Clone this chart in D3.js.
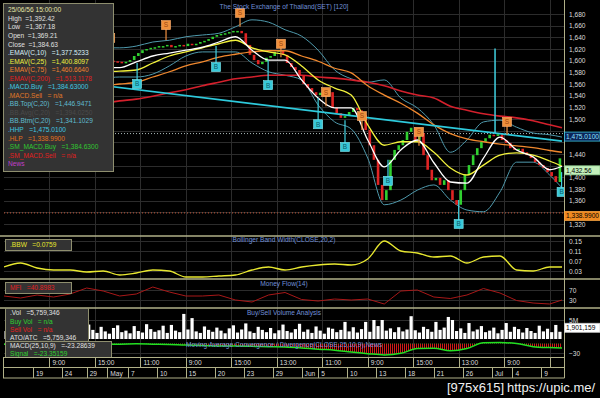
<!DOCTYPE html>
<html>
<head>
<meta charset="utf-8">
<script src="https://cdn.jsdelivr.net/npm/d3@7/dist/d3.min.js"></script>
<style>
 body{margin:0;background:#000;}
 svg{display:block;font-family:"Liberation Sans",Arial,sans-serif;}
 text{white-space:pre;}
</style>
</head>
<body>
<div id="chart"></div>
<script>
// 120 min bars, SET index
var closes = [
 1600,1604,1598,1606,1610,1603,1597,1601,1608,1612,
 1605,1599,1595,1602,1607,1604,1598,1593,1596,1601,
 1604,1600,1596,1594,1597,1600,1599,
 1598,1596,1598,1601,1608,1613,1618,1620,1622,1623,
 1625,1625,1627,1623,1625,1627,1625,1629,1627,1629,
 1632,1634,1637,1641,1644,1646,1647,1649,1651,1651,
 1647,1627,1610,1601,1594,1598,1605,1608,1615,1618,
 1610,1596,1589,1584,1575,1560,1553,1546,1541,1545,
 1539,1546,1519,1510,1502,1505,1512,1519,1515,1507,
 1481,1455,1430,1387,1361,1378,1430,1447,1455,1464,
 1478,1485,1464,1476,1438,1413,1395,1399,1387,1395,
 1378,1361,1353,1378,1404,1421,1438,1450,1461,1467,
 1473,1471,1474,1464,1459,1450,1447,1449,1443,1438,
 1433,1426,1421,1416,1409,1402,1392,1432.56
];
var opens = [
 1598,1600,1604,1598,1606,1610,1603,1597,1601,1608,
 1612,1605,1599,1595,1602,1607,1604,1598,1593,1596,
 1601,1604,1600,1596,1594,1597,1600,
 1599,1598,1596,1598,1601,1608,1613,1618,1620,1622,
 1623,1625,1625,1627,1623,1625,1627,1625,1629,1627,
 1629,1632,1634,1637,1641,1644,1646,1647,1649,1651,
 1651,1647,1627,1610,1601,1594,1598,1605,1608,1615,
 1618,1610,1596,1589,1584,1575,1560,1553,1546,1541,
 1545,1539,1546,1519,1510,1502,1505,1512,1519,1515,
 1507,1481,1455,1430,1387,1361,1378,1430,1447,1455,
 1464,1478,1485,1464,1476,1438,1413,1395,1399,1387,
 1395,1378,1361,1353,1378,1404,1421,1438,1450,1461,
 1467,1473,1471,1474,1464,1459,1450,1447,1449,1443,
 1438,1433,1426,1421,1416,1409,1402,1392
];
// volume, millions
var volumes = [
 2.1,1.8,2.5,1.6,2.2,3.0,1.9,2.4,1.7,2.8,
 2.0,1.5,2.6,2.2,1.8,3.1,2.4,1.9,2.7,2.0,
 3.8,2.4,1.6,3.2,2.0,1.4,2.9,3.6,1.8,2.2,
 1.5,3.4,2.1,1.7,3.9,2.6,1.9,2.3,3.5,1.6,
 3.7,2.2,1.8,6.6,2.5,5.5,2.0,1.6,3.3,2.4,
 1.9,3.0,2.2,1.5,2.8,3.6,1.7,2.5,4.1,2.0,
 1.6,3.2,2.4,1.8,2.9,1.5,2.3,3.8,2.1,1.7,
 2.6,4.0,1.9,2.5,1.6,3.3,2.2,1.4,3.0,2.7,
 1.8,2.4,4.5,2.0,3.1,1.7,2.6,4.5,1.9,5.0,
 3.4,5.0,2.2,2.8,1.8,3.1,2.0,2.5,6.0,2.3,
 1.7,3.2,2.6,1.9,4.5,2.4,3.0,5.8,5.0,2.1,
 2.8,1.6,4.2,2.0,2.5,3.4,1.8,2.2,3.0,1.5,
 2.4,4.2,1.9,3.2,2.6,1.7,2.9,2.1,1.6,3.5,
 2.0,2.7,1.8,3.7,1.9
];

// indicator lines sampled at these bar slots
var lineSlots = [0,4,8,12,16,20,24,28,32,36,40,44,48,52,56,60,64,68,72,76,80,84,88,92,96,100,104,108,112,116,120,124,128,132,135];
var ema10  = [1593,1594,1596,1594,1593,1591,1589,1588,1598,1608,1613,1618,1623,1632,1641,1618,1601,1601,1567,1536,1519,1519,1464,1418,1447,1464,1425,1392,1390,1433,1469,1447,1435,1413,1419];
var ema25  = [1581,1581,1581,1579,1579,1579,1581,1582,1584,1596,1608,1615,1622,1629,1635,1622,1615,1610,1591,1567,1553,1541,1490,1455,1461,1461,1443,1416,1404,1421,1438,1442,1438,1428,1419];
var ema75  = [1546,1548,1550,1551,1553,1555,1557,1560,1563,1572,1581,1591,1598,1606,1611,1615,1617,1617,1608,1599,1587,1579,1557,1541,1527,1510,1490,1475,1466,1461,1457,1454,1451,1446,1443];
var ema200 = [1512,1514,1515,1519,1521,1524,1527,1531,1534,1539,1545,1550,1557,1563,1569,1572,1575,1575,1575,1572,1570,1567,1563,1557,1548,1541,1536,1522,1515,1509,1505,1502,1497,1490,1485];
var bbTop  = [1610,1613,1618,1622,1623,1623,1622,1622,1625,1632,1635,1641,1644,1647,1658,1670,1666,1653,1642,1618,1584,1569,1563,1567,1536,1519,1490,1443,1464,1495,1498,1486,1476,1473,1469];
var bbBtm  = [1550,1551,1553,1557,1560,1563,1569,1572,1572,1577,1591,1608,1615,1615,1615,1596,1581,1575,1567,1524,1495,1483,1433,1353,1361,1378,1387,1361,1344,1341,1375,1426,1426,1404,1382];
var bbw    = [0.046,0.062,0.042,0.034,0.034,0.026,0.030,0.014,0.022,0.034,0.030,0.006,0.006,0.010,0.014,0.034,0.046,0.034,0.046,0.054,0.058,0.054,0.078,0.150,0.110,0.102,0.086,0.090,0.062,0.086,0.090,0.034,0.030,0.046,0.046];
var mfi    = [46,38,50,42,54,78,66,46,54,82,62,46,46,50,30,22,50,60,32,26,34,30,34,14,66,70,42,36,50,76,58,28,18,14,30];
var macd   = [-2,-1,-2,-1,-2,-1,-2,-2,-1,-2,-3,-5,-6,-8,-8,-9,-10,-11,-14,-18,-21,-27,-32,-36,-31,-16,-15,-23,-16,2,3,0,-10,-13,-14];

var trendSlots = [0,135];
var trendPrices = [1578,1462];
var hhp = 1475.01, hlp = 1338.99, lastPrice = 1432.56, lastVol = 1901159;

// buy / sell signals
var markerTypes  = ['S','S','B','S','B','B','S','S','B','B','S','B','S','B','S','B'];
var markerSlots  = [25.7,39.2,32.2,57.1,51.3,63.9,67,77.9,76,82.5,86.6,92.9,100.4,110,121.7,134.9];
var markerFrom   = [1623,1635,1596,1658,1625,1601,1606,1522,1536,1498,1481,1430,1454,1361,1473,1409];
var markerBox    = [1639,1661,1560,1682,1589,1558,1629,1546,1491,1452,1505,1394,1478,1320,1495,1375];
var spikeSlot = 118.8, spikeTop = 1621, spikeBottom = 1476;

var priceTicks = [1320,1340,1360,1380,1400,1420,1440,1460,1480,1500,1520,1540,1560,1580,1600,1620,1640,1660,1680];
var bbwTicks = [0.03,0.07,0.11,0.15];
var mfTicks = [30,70];
var volTicks = [5];
var macdTicks = [-30];
var timeSlots  = [11,22,33,44,55,66,77,88,99,110,121,132];
var timeLabels = ['9:00','15:00','11:00','9:00','15:00','13:00','11:00','9:00','15:00','13:00','9:00',''];
var dateSlots  = [7,14,20,25,30,37,44,51,58,65,72,76,83,90,97,104,111,118,123,130];
var dateLabels = ['19','24','29','May','7','10','15','20','23','29','Jun','5','10','13','18','21','26','Jul','4','9'];

var legendRows = [
 ['25/06/56 15:00:00','#e6e6a8'],
 ['High  =1,392.42','#e0e0e0'],
 ['Low   =1,367.18','#e0e0e0'],
 ['Open  =1,369.21','#e0e0e0'],
 ['Close  =1,384.63','#e0e0e0'],
 ['.EMAV(C,10)   =1,377.5233','#d8f0f8'],
 ['.EMAV(C,25)   =1,400.8097','#f0f040'],
 ['.EMAV(C,75)   =1,460.6640','#f08030'],
 ['.EMAV(C,200)   =1,513.1178','#e02020'],
 ['.MACD.Buy   =1,384.63000','#40c8e0'],
 ['.MACD.Sell   = n/a','#e07828'],
 ['.BB.Top(C,20)   =1,446.9471','#60bcd0'],
 ['.BB.Avg(C,20)   =1,394.0250','#4a4a4a'],
 ['.BB.Btm(C,20)   =1,341.1029','#60bcd0'],
 ['.HHP   =1,475.0100','#40c8e0'],
 ['.HLP   =1,338.9900','#e07020'],
 ['.SM_MACD.Buy   =1,384.6300','#30c830'],
 ['.SM_MACD.Sell   = n/a','#e02020'],
 ['News','#c040c8']
];

var W = 600, H = 398, left = 4, right = 564;
var khaki = '#b0b088', gridC = '#2c2c2c', fs = 6.6;

var svg = d3.select('#chart').append('svg').attr('width', W).attr('height', H)
  .style('background', '#000');

var x = d3.scaleLinear().domain([0, 135]).range([4, 562]);
var yP = d3.scaleLinear().domain([1320, 1680]).range([224, 14]);
var yBbw = d3.scaleLinear().domain([0.03, 0.15]).range([271, 241]);
var yMf = d3.scaleLinear().domain([30, 70]).range([300, 290]);
var yVol = d3.scaleLinear().domain([0, 5]).range([339, 320]);
var yMacd = d3.scaleLinear().domain([-30, 0]).range([353, 343.5]);

var defs = svg.append('defs');
function clip(id, y0, y1) {
  defs.append('clipPath').attr('id', id).append('rect')
    .attr('x', left).attr('y', y0).attr('width', right - left).attr('height', y1 - y0);
}
clip('cMain', 0, 235); clip('cBbw', 237, 278); clip('cMf', 280, 307);
clip('cVol', 309, 340); clip('cMacd', 340, 357);
clip('cMacdUp', 340, 343.5); clip('cMacdDn', 343.5, 357);
function hatch(id, color) {
  defs.append('pattern').attr('id', id).attr('patternUnits', 'userSpaceOnUse')
    .attr('width', 2).attr('height', 4)
    .append('rect').attr('width', 1).attr('height', 4).attr('fill', color);
}
hatch('hRed', '#d01818'); hatch('hGreen', '#40e040');

// grid
var grid = svg.append('g').attr('stroke', gridC).attr('stroke-width', 1);
grid.selectAll('line.v').data(timeSlots).enter().append('line')
  .attr('x1', d => Math.round(x(d)) + 0.5).attr('x2', d => Math.round(x(d)) + 0.5)
  .attr('y1', 0).attr('y2', 357);
function hgrid(ticks, sc) {
  grid.selectAll(null).data(ticks).enter().append('line')
    .attr('x1', left).attr('x2', right)
    .attr('y1', d => Math.round(sc(d)) + 0.5).attr('y2', d => Math.round(sc(d)) + 0.5);
}
hgrid(priceTicks, yP); hgrid(bbwTicks, yBbw); hgrid(mfTicks, yMf);
hgrid(volTicks, yVol); hgrid(macdTicks, yMacd);

// main panel
var main = svg.append('g').attr('clip-path', 'url(#cMain)');

main.append('line').attr('x1', left).attr('x2', right)
  .attr('y1', yP(hhp)).attr('y2', yP(hhp))
  .attr('stroke', '#a8b8b8').attr('stroke-dasharray', '1,2');
main.append('line').attr('x1', left).attr('x2', right)
  .attr('y1', yP(hlp)).attr('y2', yP(hlp))
  .attr('stroke', '#c8583a').attr('stroke-dasharray', '1,2');

function drawLine(g, vals, sc, color, w, curve) {
  var line = d3.line().x((d, i) => x(lineSlots[i])).y(d => sc(d))
    .curve(curve || d3.curveMonotoneX);
  g.append('path').datum(vals).attr('d', line).attr('fill', 'none')
    .attr('stroke', color).attr('stroke-width', w);
}

drawLine(main, bbTop, yP, '#4f9aad', 1);
drawLine(main, bbBtm, yP, '#4f9aad', 1);

var bw = 2.6;
main.selectAll('rect.c').data(closes).enter().append('rect')
  .attr('x', (d, i) => x(i + 0.5) - bw / 2)
  .attr('y', (d, i) => yP(Math.max(d, opens[i])))
  .attr('width', bw)
  .attr('height', (d, i) => Math.max(1.5, Math.abs(yP(opens[i]) - yP(d))))
  .attr('fill', (d, i) => d >= opens[i] ? '#30d030' : '#e02424');

drawLine(main, ema200, yP, '#d4202c', 1.6);
drawLine(main, ema75, yP, '#f0882e', 1.3);
main.append('path')
  .datum(trendSlots.map((s, i) => [s, trendPrices[i]]))
  .attr('d', d3.line().x(d => x(d[0])).y(d => yP(d[1])))
  .attr('stroke', '#2ecadc').attr('stroke-width', 1.7).attr('fill', 'none');
drawLine(main, ema25, yP, '#f2f23c', 1.3);
drawLine(main, ema10, yP, '#ffffff', 1.3);

main.append('line').attr('x1', x(spikeSlot)).attr('x2', x(spikeSlot))
  .attr('y1', yP(spikeTop)).attr('y2', yP(spikeBottom))
  .attr('stroke', '#40d0e0').attr('stroke-width', 1.5);

var mk = main.selectAll('g.mk').data(markerTypes).enter().append('g');
mk.append('line')
  .attr('x1', (d, i) => x(markerSlots[i])).attr('x2', (d, i) => x(markerSlots[i]))
  .attr('y1', (d, i) => yP(markerFrom[i])).attr('y2', (d, i) => yP(markerBox[i]))
  .attr('stroke', d => d == 'B' ? '#40d0e0' : '#f09040').attr('stroke-width', 1.2);
mk.append('rect')
  .attr('x', (d, i) => x(markerSlots[i]) - 4.5).attr('y', (d, i) => yP(markerBox[i]) - 4.5)
  .attr('width', 9).attr('height', 9)
  .attr('fill', d => d == 'B' ? '#38c8d8' : '#f0903c')
  .attr('stroke', d => d == 'B' ? '#7ee8f0' : '#ffb070').attr('stroke-width', 0.6);
mk.append('text')
  .attr('x', (d, i) => x(markerSlots[i])).attr('y', (d, i) => yP(markerBox[i]) + 2.4)
  .attr('text-anchor', 'middle').attr('font-size', 6.5)
  .attr('fill', d => d == 'B' ? '#0c5a66' : '#9a4410')
  .text(d => d);

// sub panels
var gB = svg.append('g').attr('clip-path', 'url(#cBbw)');
drawLine(gB, bbw, yBbw, '#e8e830', 1.3);
var gM = svg.append('g').attr('clip-path', 'url(#cMf)');
drawLine(gM, mfi, yMf, '#a81818', 1, d3.curveLinear);

var gV = svg.append('g').attr('clip-path', 'url(#cVol)');
gV.selectAll('rect').data(volumes).enter().append('rect')
  .attr('x', (d, i) => x(i + 0.5) - 1.6).attr('width', 3.2)
  .attr('y', d => yVol(d)).attr('height', d => yVol(0) - yVol(d))
  .attr('fill', '#ffffff');

var area = d3.area().x((d, i) => x(lineSlots[i])).y0(yMacd(0)).y1(d => yMacd(d))
  .curve(d3.curveMonotoneX);
svg.append('path').datum(macd).attr('d', area).attr('fill', 'url(#hRed)')
  .attr('clip-path', 'url(#cMacdDn)');
svg.append('path').datum(macd).attr('d', area).attr('fill', 'url(#hGreen)')
  .attr('clip-path', 'url(#cMacdUp)');
var gC = svg.append('g').attr('clip-path', 'url(#cMacd)');
drawLine(gC, macd, yMacd, '#22e022', 1.5);

// titles
var titles = [
  ['The Stock Exchange of Thailand(SET) [120]', 9],
  ['Bollinger Band Width(CLOSE,20,2)', 242.3],
  ['Money Flow(14)', 286.3],
  ['Buy/Sell Volume Analysis', 315.3],
  ['Moving Average Convergence / Divergence(CLOSE,25,10,9),News', 347.3]
];
svg.selectAll('text.title').data(titles).enter().append('text')
  .attr('x', 284).attr('y', d => d[1]).attr('text-anchor', 'middle')
  .attr('font-size', fs).attr('fill', '#7090d8').text(d => d[0]);

// panel borders
var sep = [236, 279, 308];
svg.selectAll('line.sep').data(sep).enter().append('line')
  .attr('x1', 0).attr('x2', W).attr('y1', d => d).attr('y2', d => d)
  .attr('stroke', khaki).attr('stroke-width', 1.6);
svg.append('line').attr('x1', right + 0.5).attr('x2', right + 0.5).attr('y1', 0).attr('y2', 378)
  .attr('stroke', khaki);

// price tags on the right axis
var tags = [
  [yP(hhp) + 3, d3.format(',.4f')(hhp), '#0c2458', '#3cc4e0', '#8ce4ff'],
  [yP(lastPrice) + 12, d3.format(',.2f')(lastPrice), '#c4f0bc', '#90d090', '#000'],
  [yP(hlp) + 3, d3.format(',.4f')(hlp), '#f08a20', '#f0a040', '#000'],
  [yVol(lastVol / 1e6) - 4, d3.format(',')(lastVol), '#ffffff', '#ccc', '#000']
];

// right axes, labels hidden under a tag are left out
function rightAxis(sc, ticks, fmt) {
  var shown = ticks.filter(t => tags.every(tg => Math.abs(sc(t) - tg[0]) > 6.5));
  var g = svg.append('g').attr('transform', 'translate(' + right + ',0)')
    .call(d3.axisRight(sc).tickValues(shown).tickFormat(fmt).tickSize(0).tickPadding(5));
  g.select('.domain').remove();
  g.selectAll('text').attr('fill', '#dcdcdc').attr('font-size', fs)
    .attr('font-family', '"Liberation Sans",Arial,sans-serif');
}
rightAxis(yP, priceTicks, d3.format(','));
rightAxis(yBbw, bbwTicks, d3.format('.2f'));
rightAxis(yMf, mfTicks, d3.format('d'));
rightAxis(yVol, volTicks, d => d + 'M');
rightAxis(yMacd, macdTicks, d3.format('d'));

tags.forEach(function (t) {
  svg.append('rect').attr('x', right + 0.5).attr('y', t[0] - 4.5).attr('width', 35.5).attr('height', 9)
    .attr('fill', t[2]).attr('stroke', t[3]).attr('stroke-width', 0.8);
  svg.append('text').attr('x', right + 2).attr('y', t[0] + 2.3).attr('font-size', fs)
    .attr('fill', t[4]).text(t[1]);
});

// legend boxes
function box(x0, y0, w, h, rows, dy) {
  svg.append('rect').attr('x', x0).attr('y', y0).attr('width', w).attr('height', h)
    .attr('fill', '#333333').attr('stroke', '#8e8e6e').attr('stroke-width', 1);
  svg.selectAll(null).data(rows).enter().append('text')
    .attr('x', x0 + 4.5).attr('y', (d, i) => y0 + dy + i * (d[2] || 8.55))
    .attr('font-size', fs).attr('fill', d => d[1]).text(d => d[0]);
}
box(3.5, 3.5, 110, 168, legendRows, 8.8);
box(5.5, 239.5, 66, 11, [['.BBW   =0.0759', '#e6e62e']], 7.8);
box(5.5, 282.5, 66, 11, [['MFI   =40.8983', '#e02020']], 7.8);
box(5.5, 308.5, 83, 33, [
  ['.Vol   =5,759,346', '#e0e0e0', 8.3],
  ['Buy Vol   = n/a', '#30d030', 8.3],
  ['Sell Vol   = n/a', '#e02020', 8.3],
  ['ATO/ATC   =5,759,346', '#e0e0e0', 8.3]], 6.9);
box(5.5, 341.5, 106, 16, [
  ['MACD(25,10,9)   =-23.28639', '#e0e0e0', 8],
  ['Signal   =-23.35159', '#30d030', 8]], 6.3);

// time axis rows
var ax = svg.append('g');
[357.5, 367.5, 378].forEach(function (yy) {
  ax.append('line').attr('x1', 3).attr('x2', right + 0.5).attr('y1', yy).attr('y2', yy)
    .attr('stroke', khaki).attr('stroke-width', 1);
});
ax.append('line').attr('x1', 3.5).attr('x2', 3.5).attr('y1', 357.5).attr('y2', 378).attr('stroke', khaki);
ax.selectAll('line.t').data(timeSlots).enter().append('line')
  .attr('x1', d => Math.round(x(d)) + 0.5).attr('x2', d => Math.round(x(d)) + 0.5)
  .attr('y1', 357.5).attr('y2', 367.5).attr('stroke', khaki);
ax.selectAll('text.t').data(timeSlots).enter().append('text')
  .attr('x', d => x(d) + 3).attr('y', 365.3).attr('font-size', fs).attr('fill', '#dcdcdc')
  .text((d, i) => timeLabels[i]);
ax.selectAll('line.d').data(dateSlots).enter().append('line')
  .attr('x1', d => Math.round(x(d)) + 0.5).attr('x2', d => Math.round(x(d)) + 0.5)
  .attr('y1', 367.5).attr('y2', 378).attr('stroke', khaki);
ax.selectAll('text.d').data(dateSlots).enter().append('text')
  .attr('x', d => x(d) + 3).attr('y', 375.5).attr('font-size', fs).attr('fill', '#dcdcdc')
  .text((d, i) => dateLabels[i]);

// footer
svg.append('text').attr('x', 447).attr('y', 392).attr('font-size', 13).attr('fill', '#f0f0f0')
  .text('[975x615]');
svg.append('text').attr('x', 507).attr('y', 392).attr('font-size', 13).attr('fill', '#f0f0f0')
  .text('https://upic.me/');
</script>
</body>
</html>
